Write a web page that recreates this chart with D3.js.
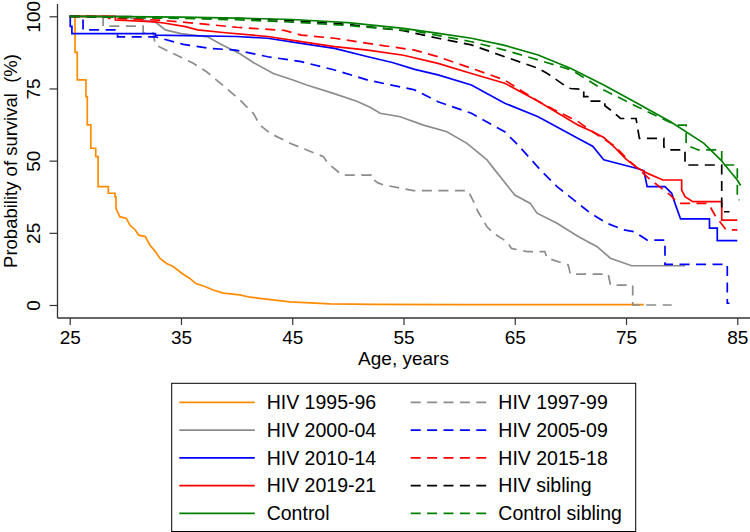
<!DOCTYPE html>
<html><head><meta charset="utf-8">
<script src="https://cdn.jsdelivr.net/npm/d3@7"></script>
<style>
body{margin:0;background:#fff}
svg{display:block}
text{font-family:"Liberation Sans",Arial,Helvetica,sans-serif;fill:#000}
</style>
</head><body>
<svg id="c" width="750" height="532"></svg>
<script>
// ---- data ----
const xTicks = [25, 35, 45, 55, 65, 75, 85];
const yTicks = [0, 25, 50, 75, 100];
const seriesNames = ["HIV 1995-96","HIV 1997-99","HIV 2000-04","HIV 2005-09","HIV 2010-14","HIV 2015-18","HIV 2019-21","HIV sibling","Control","Control sibling"];

const hiv1995 = [[25,100],[25.48,100],[25.48,87.5],[25.68,87.5],[25.68,78],[26.46,78],[26.46,72.2],[26.58,72.2],[26.58,62.4],[26.9,62.4],[26.9,54.3],[27.34,54.3],[27.34,51.4],[27.55,51.4],[27.55,41],[28.47,41],[28.47,38.7],[29.07,38.7],[29.07,37.5],[29.16,37.5],[29.16,33.5],[29.5,30.6],[30.1,30],[30.4,27.7],[30.9,26],[31.2,24.2],[31.8,23.7],[32.2,20.8],[32.7,18.5],[33.1,16.2],[33.7,14.4],[34.3,13.3],[35.07,11],[35.8,9.2],[36.3,7.5],[37.2,6.3],[37.9,5.2],[38.8,4.1],[40.3,3.5],[41.2,2.7],[42.1,2.3],[44.8,1.1],[48.4,0.4],[52.3,0.2],[60,0.1],[76.6,0.1]];
const hiv1997 = [[25,100],[28,100],[28,96.6],[31.6,96.6],[31.6,94.2],[32.5,94.2],[32.7,90.1],[34.9,86],[36.1,83.7],[37.3,80.8],[38.2,77.9],[39.1,75],[40.3,71],[41.5,66.4],[42.1,62.3],[43,59.5],[44.2,57.2],[44.8,56],[46.3,53.7],[47.8,51.4],[48.2,49.1],[49.3,45.6],[49.6,45],[52.1,45],[52.1,44],[52.7,42.3],[53.2,41.6],[55.9,39.6],[60.8,39.6],[61.3,35.8],[61.7,32.3],[62.5,27.1],[63.1,24.8],[64.3,21.9],[64.7,19.6],[66.1,18.5],[67.7,18.5],[67.9,16.3],[69.8,13.9],[70,10.7],[73.4,10.7],[73.6,6.9],[75.6,6.9],[75.6,0],[79.1,0]];
const hiv2000 = [[25,100],[30.5,100],[30.5,99.3],[32.7,98],[33.6,95.3],[35,94],[37.4,92.9],[38.5,90.5],[39.3,88.9],[40.3,87],[41.5,84],[43.3,80.2],[45,78],[46.3,76.2],[48.7,73.3],[50.8,70.6],[52,68.5],[52.9,66.4],[54.7,65.2],[56.8,62.3],[58.9,60],[60.7,56],[61.5,53.5],[62.5,50.3],[63.2,46.8],[63.7,44.4],[65,38.1],[66.4,35.2],[67,31.8],[68.8,28.3],[70.7,23.7],[72.4,20.2],[73.6,16.2],[75.5,13.6],[80.3,13.6]];
const hiv2005 = [[25,100],[26.2,100],[26.2,95.3],[29.3,95.3],[29.3,92.9],[32.7,92.9],[35.2,90.3],[37.6,88.9],[39.9,88.3],[42.8,86],[45.8,84.3],[48.8,81.4],[51.8,77.9],[56,74.5],[58.1,70.4],[61.1,66.4],[64.1,60],[65.3,55.4],[67.3,46.8],[68.8,41],[70.3,36.4],[71.8,31.8],[73.3,28.3],[74.8,26],[75.7,25.4],[76.9,22.5],[78.5,22.5],[78.5,14.1],[84.1,14.1],[84.1,0.6],[84.3,0.6]];
const hiv2010 = [[25,100],[25.05,100],[25.05,96.5],[25.2,96.5],[25.2,94],[32.7,94],[32.7,93.5],[40,93],[42.8,92.4],[45.8,90.6],[48.8,88.9],[51.8,86],[54,84],[56,81.6],[58.1,79.7],[61.1,76.2],[64.1,69.9],[67.1,65.2],[70.7,57.7],[72,55],[73,50.3],[76,47.3],[76.6,46.5],[76.9,41],[78.5,41],[79.1,38.7],[79.4,35.2],[79.9,29.8],[82.5,29.8],[82.5,26.6],[83.2,26.6],[83.2,22.3],[85,22.3]];
const hiv2015 = [[25,100],[28.5,100],[28.5,99.3],[33,98.7],[36.5,97.5],[40,96.2],[44.3,95.1],[45.8,93.5],[48.8,92.4],[51.8,90.6],[56,88.3],[58.1,86],[61.1,82],[64.1,77.9],[67.1,70.6],[68.6,67.5],[70.7,63.5],[72,60],[73,57.5],[74,55],[75,51],[76,47.5],[77,44],[78,41],[79,38],[79.7,35.2],[82.4,35.2],[83,31],[84,26],[85,26]];
const hiv2019 = [[25,100],[29.1,100],[29.1,98.7],[32.7,98.1],[33.6,97.6],[35.4,96.4],[36.5,95.3],[39,94.3],[42.8,93],[45.8,91.2],[48.8,89.5],[51.8,88.3],[55,86.5],[58.1,83.7],[61.1,80.2],[64.1,76.8],[67.1,70.6],[70.7,62.3],[72,60],[73,58],[74,54.5],[75,50.5],[76,47.5],[77,45.5],[78.3,43.3],[80,43.3],[80,39.8],[80.3,37.5],[81,35.8],[83.6,35.8],[83.6,29.4],[85,29.4]];
const hivSibling = [[25,100],[30,99.6],[40,99.3],[45,98.5],[50,97.2],[55,95],[58.1,92.4],[61.1,90.1],[64.1,86],[67.1,82],[68,80],[69.5,76],[70,75],[71.2,74.7],[71.2,72.2],[71.8,72.2],[71.8,70.6],[73.1,70.6],[73.1,69],[73.8,67],[74.5,64.6],[75.9,64.6],[76,62.3],[76.2,57.7],[78.4,57.7],[78.4,54.8],[78.7,53.7],[80.3,53.7],[80.3,48.5],[83.6,48.5],[83.6,32.3],[84.3,32.3]];
const control = [[25,100],[30,99.9],[35,99.7],[40,99.4],[45,98.9],[50,97.8],[55,95.8],[58,94.2],[61.1,92.4],[64,90],[67.1,86.6],[70,82],[73,76.2],[76,69.9],[79,63.5],[82,56],[83.5,50.3],[85,43.3],[85.3,41.4]];
const controlSibling = [[25,100],[30,99.6],[35,99.3],[40,98.8],[45,98],[50,96.8],[56,94.9],[61.1,91.2],[64.1,88.3],[67.1,84.9],[70.1,81.4],[73,74.5],[76,68.7],[78,65],[79.5,62.3],[80.4,62.3],[80.4,55.4],[81.5,53.7],[83.6,53.7],[83.6,48.5],[85,48.5],[85,36.4],[85.2,36.4]];

const seriesValues = [hiv1995, hiv1997, hiv2000, hiv2005, hiv2010, hiv2015, hiv2019, hivSibling, control, controlSibling];

// ---- styles ----
const colors = ["#ff8c00","#8c8c8c","#8c8c8c","#0000ff","#0000ff","#ff0000","#ff0000","#000000","#008000","#008000"];
const dashed = [false,true,false,true,false,true,false,true,false,true];

const svg = d3.select("#c");
const x = d3.scaleLinear().domain([25, 85]).range([69.7, 737.3]);
const y = d3.scaleLinear().domain([0, 100]).range([305, 16.3]);
const axisColor = "#333";

// axes lines
svg.append("line").attr("x1",57.5).attr("x2",57.5).attr("y1",4).attr("y2",318).attr("stroke",axisColor).attr("stroke-width",1.3);
svg.append("line").attr("x1",57.5).attr("x2",750).attr("y1",318).attr("y2",318).attr("stroke",axisColor).attr("stroke-width",1.3);

// x axis
const xAxis = svg.append("g").attr("transform","translate(0,318)")
  .call(d3.axisBottom(x).tickValues(xTicks).tickSize(7).tickPadding(6).tickFormat(d3.format("d")));
xAxis.select(".domain").remove();
xAxis.selectAll("line").attr("stroke",axisColor).attr("stroke-width",1.2);
xAxis.selectAll("text").attr("font-size",19).attr("font-family",'"Liberation Sans",Arial,sans-serif').attr("fill","#000");

// y axis
const yAxis = svg.append("g").attr("transform","translate(57.5,0)")
  .call(d3.axisLeft(y).tickValues(yTicks).tickSize(8).tickFormat(d3.format("d")));
yAxis.select(".domain").remove();
yAxis.selectAll("line").attr("stroke",axisColor).attr("stroke-width",1.2);
yAxis.selectAll("text")
  .attr("font-size",19).attr("font-family",'"Liberation Sans",Arial,sans-serif').attr("fill","#000")
  .attr("x",null).attr("dy",null)
  .attr("text-anchor","middle")
  .attr("transform","translate(-18,0) rotate(-90)");

// axis titles
svg.append("text").attr("transform","translate(17,161) rotate(-90)").attr("text-anchor","middle")
  .attr("font-size",18.5).style("white-space","pre").text("Probability of survival  (%)");
svg.append("text").attr("x",403.5).attr("y",365).attr("text-anchor","middle")
  .attr("font-size",19).text("Age, years");

// curves
const line = d3.line().x(d=>x(d[0])).y(d=>y(d[1]));
const plot = svg.append("g");
seriesValues.forEach((vals,i)=>{
  plot.append("path").attr("d",line(vals)).attr("fill","none")
    .attr("stroke",colors[i]).attr("stroke-width",1.7)
    .attr("stroke-linejoin","miter")
    .attr("stroke-dasharray",dashed[i]?"10,6.5":null);
});

// legend
const lg = svg.append("g");
lg.append("rect").attr("x",171.7).attr("y",383.3).attr("width",464).attr("height",148.2)
  .attr("fill","#fff").attr("stroke","#000").attr("stroke-width",1);
seriesNames.forEach((name,i)=>{
  const row = Math.floor(i/2), col = i%2;
  const cy = 402.3 + row*27.75;
  const lx = col===0 ? 179.3 : 410.7;
  const tx = col===0 ? 266.7 : 498.3;
  lg.append("line").attr("x1",lx).attr("x2",lx+75.5).attr("y1",cy).attr("y2",cy)
    .attr("stroke",colors[i]).attr("stroke-width",1.7)
    .attr("stroke-dasharray",dashed[i]?"10,6.4":null);
  lg.append("text").attr("x",tx).attr("y",cy+6.9).attr("font-size",19.5).text(name);
});
</script>
</body></html>
